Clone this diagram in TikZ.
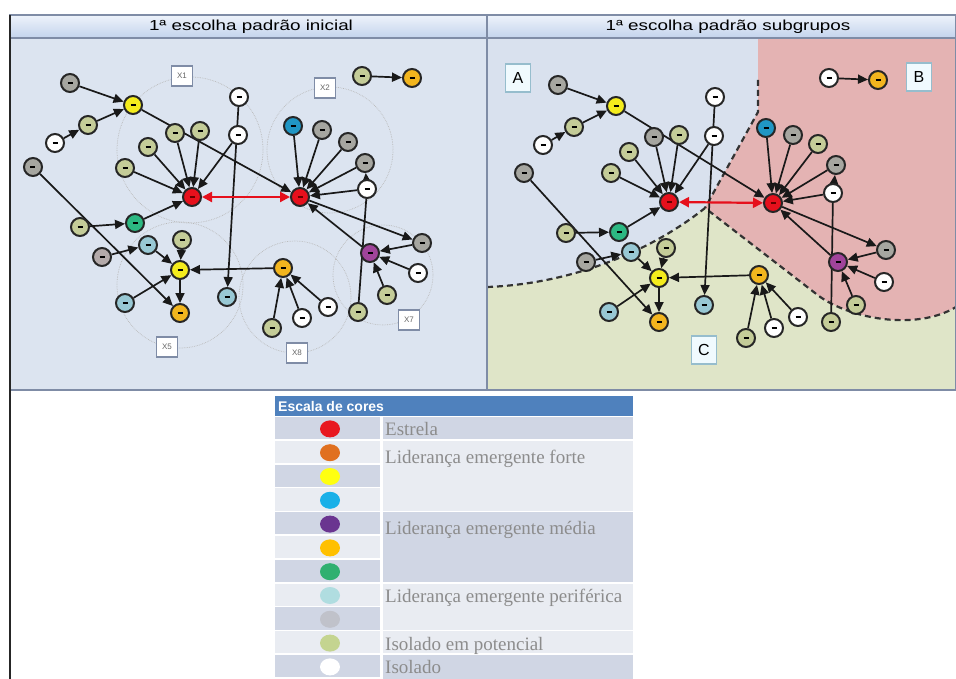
\documentclass[tikz,border=0pt]{standalone}
\usepackage{fontspec}
\setmainfont{Liberation Sans}
\newfontfamily\legserif{Liberation Serif}
\usetikzlibrary{arrows.meta}
\pgfdeclarelayer{bg}
\pgfdeclarelayer{edges}
\definecolor{cgray}{HTML}{A6A6A0}
\definecolor{colive}{HTML}{C4CC98}
\definecolor{cyellow}{HTML}{F4EC1C}
\definecolor{cgold}{HTML}{F2B51E}
\definecolor{cblue}{HTML}{2096C4}
\definecolor{cgreen}{HTML}{2CB882}
\definecolor{clblue}{HTML}{98C8D4}
\definecolor{cpurple}{HTML}{A0449A}
\definecolor{cmauve}{HTML}{B4AAAA}
\definecolor{cred}{HTML}{E6101C}
\definecolor{panelL}{HTML}{DCE4F0}
\definecolor{regA}{HTML}{D9E1EE}
\definecolor{regB}{HTML}{E4B3B3}
\definecolor{regC}{HTML}{DFE5C8}
\definecolor{tbtop}{HTML}{EEF3FB}
\definecolor{tbbot}{HTML}{C3D3EC}
\definecolor{framec}{HTML}{7F8CA6}
\definecolor{hdr}{HTML}{4F81BD}
\definecolor{rowdk}{HTML}{D0D6E4}
\definecolor{rowlt}{HTML}{E9ECF2}
\definecolor{legtxt}{HTML}{8C8C8C}
\definecolor{lred}{HTML}{E81820}
\definecolor{lorange}{HTML}{E07020}
\definecolor{lyellow}{HTML}{FFFF10}
\definecolor{lblue}{HTML}{19B0E8}
\definecolor{lpurple}{HTML}{6A3590}
\definecolor{lgold}{HTML}{FFC000}
\definecolor{lgreen}{HTML}{30B070}
\definecolor{llblue}{HTML}{B0DDE0}
\definecolor{lgray}{HTML}{C0C2CA}
\definecolor{lolive}{HTML}{C4D490}
\newcommand\dsh{\rule{5pt}{1.8pt}}
\newcommand\rdsh{\textcolor{black!60!red}{\rule{5pt}{1.8pt}}}
\tikzset{
 nd/.style={circle, draw=black!85, line width=2pt, minimum size=18pt, inner sep=0pt},
 ng/.style={nd, fill=cgray}, no/.style={nd, fill=colive}, nw/.style={nd, fill=white},
 ny/.style={nd, fill=cyellow}, nor/.style={nd, fill=cgold}, nb/.style={nd, fill=cblue},
 ngr/.style={nd, fill=cgreen}, nlb/.style={nd, fill=clblue}, np/.style={nd, fill=cpurple},
 nm/.style={nd, fill=cmauve}, nr/.style={nd, fill=cred},
 arr/.style={-{Triangle[length=10pt,width=9pt]}, line width=1.7pt, black!90},
 ln/.style={line width=1.7pt, black!90},
 redarr/.style={{Triangle[length=10pt,width=10pt]}-{Triangle[length=10pt,width=10pt]}, line width=2.2pt, cred},
 circ/.style={draw=gray!55, densely dotted, line width=0.7pt},
 xbox/.style={draw=framec, line width=1.2pt, fill=white, minimum width=21pt, minimum height=20pt, inner sep=0pt, font=\fontsize{8}{8}\selectfont, text=black!60},
 abox/.style={draw=cyan!40!gray!70, line width=1.4pt, fill=white!94!cyan, minimum width=25pt, minimum height=28pt, inner sep=0pt, font=\fontsize{16}{16}\selectfont},
 ttl/.style={font=\fontsize{14.5}{15}\selectfont, inner sep=0pt},
 bnd/.style={dash pattern=on 6pt off 4pt, line width=2.2pt, black!80},
 legt/.style={anchor=base west, inner sep=0pt, font=\legserif\fontsize{19}{19}\selectfont, text=legtxt}
}
\begin{document}
\begin{tikzpicture}[x=1pt,y=-1pt]
\pgfsetlayers{bg,edges,main}
\useasboundingbox (0,0) rectangle (956,679);

\begin{pgfonlayer}{bg}
\fill[white] (0,0) rectangle (956,679);
\fill[panelL] (10,38) rectangle (487,390);
\fill[regA] (487,38) rectangle (956,390);
\fill[regB] (758,38) -- (758,112) -- (705,208) -- (815,293) .. controls (845,318) and (915,332) .. (956,307) -- (956,38) -- cycle;
\fill[regC] (487,287) .. controls (570,284) and (650,252) .. (705,208) -- (815,293) .. controls (845,318) and (915,332) .. (956,307) -- (956,390) -- (487,390) -- cycle;
\draw[bnd] (758,80) -- (758,112) -- (705,208);
\draw[bnd] (487,287) .. controls (570,284) and (650,252) .. (705,208) -- (815,293) .. controls (845,318) and (915,332) .. (956,307);
\shade[top color=tbtop, bottom color=tbbot] (10,15) rectangle (487,38);
\shade[top color=tbtop, bottom color=tbbot] (487,15) rectangle (956,38);
\draw[framec, line width=1.2pt] (10,15) rectangle (487,390);
\draw[framec, line width=1.2pt] (487,15) rectangle (955.4,390);
\draw[framec, line width=1.2pt] (10,38) -- (955.4,38);
\draw[black!85, line width=2.2pt] (10,15) -- (10,679);
\draw[circ] (190,150) circle[radius=73pt];
\draw[circ] (330,150) circle[radius=63pt];
\draw[circ] (180,285) circle[radius=63pt];
\draw[circ] (295,297) circle[radius=56pt];
\draw[circ] (383,275) circle[radius=50pt];
\end{pgfonlayer}

\node[ttl] (tL) at (251,26.5) {\scalebox{1.3}[1]{1ª escolha padrão inicial}};
\node[ttl] (tR) at (728,26.5) {\scalebox{1.3}[1]{1ª escolha padrão subgrupos}};

% left panel nodes
\node[ng] (ag1) at (70,83) {\dsh};
\node[ny] (ay1) at (133,105) {\dsh};
\node[nw] (aw1) at (239,97) {\dsh};
\node[no] (ao1) at (88,125) {\dsh};
\node[nw] (aw2) at (55,143) {\dsh};
\node[ng] (ag2) at (33,167) {\dsh};
\node[no] (ao2) at (125,168) {\dsh};
\node[no] (ao3) at (148,147) {\dsh};
\node[no] (ao4) at (175,133) {\dsh};
\node[no] (ao5) at (200,131) {\dsh};
\node[nw] (aw3) at (238,135) {\dsh};
\node[nb] (ab1) at (293,126) {\dsh};
\node[ng] (ag3) at (322,130) {\dsh};
\node[ng] (ag4) at (348,142) {\dsh};
\node[ng] (ag5) at (365,163) {\dsh};
\node[nw] (aw4) at (367,189) {\dsh};
\node[nr] (ar1) at (192,197) {\rdsh};
\node[nr] (ar2) at (300,197) {\rdsh};
\node[ngr] (agr1) at (135,223) {\dsh};
\node[no] (ao6) at (80,227) {\dsh};
\node[nm] (am1) at (102,257) {\dsh};
\node[nlb] (alb1) at (148,245) {\dsh};
\node[no] (ao7) at (182,240) {\dsh};
\node[ny] (ay2) at (180,270) {\dsh};
\node[nlb] (alb2) at (125,303) {\dsh};
\node[nor] (aor1) at (180,313) {\dsh};
\node[nlb] (alb3) at (227,297) {\dsh};
\node[nor] (ago1) at (283,268) {\dsh};
\node[nw] (aw5) at (328,307) {\dsh};
\node[nw] (aw6) at (302,318) {\dsh};
\node[no] (ao8) at (272,328) {\dsh};
\node[np] (ap1) at (370,253) {\dsh};
\node[ng] (ag6) at (422,243) {\dsh};
\node[nw] (aw7) at (418,273) {\dsh};
\node[no] (ao9) at (387,295) {\dsh};
\node[no] (ao10) at (358,312) {\dsh};
\node[no] (ag7) at (362,76) {\dsh};
\node[nor] (aor2) at (412,78) {\dsh};

\node[xbox] (x1) at (182,76) {X1};
\node[xbox] (x2) at (325,88) {X2};
\node[xbox] (x5) at (167,347) {X5};
\node[xbox] (x8) at (297,353) {X8};
\node[xbox] (x7) at (409,320) {X7};

% right panel nodes
\node[ng] (bg1) at (558,85) {\dsh};
\node[ny] (by1) at (616,106) {\dsh};
\node[nw] (bw1) at (715,97) {\dsh};
\node[no] (bo1) at (574,127) {\dsh};
\node[nw] (bw2) at (543,145) {\dsh};
\node[ng] (bg2) at (524,173) {\dsh};
\node[no] (bo2) at (611,173) {\dsh};
\node[no] (bo3) at (629,152) {\dsh};
\node[ng] (bo4) at (654,137) {\dsh};
\node[no] (bo5) at (679,135) {\dsh};
\node[nw] (bw3) at (714,136) {\dsh};
\node[nb] (bb1) at (766,128) {\dsh};
\node[ng] (bg3) at (793,135) {\dsh};
\node[no] (bg4) at (818,144) {\dsh};
\node[ng] (bg5) at (836,165) {\dsh};
\node[nw] (bw4) at (833,193) {\dsh};
\node[nr] (br1) at (669,202) {\rdsh};
\node[nr] (br2) at (773,203) {\rdsh};
\node[ngr] (bgr1) at (619,232) {\dsh};
\node[no] (bo6) at (566,233) {\dsh};
\node[ng] (bm1) at (586,262) {\dsh};
\node[nlb] (blb1) at (631,252) {\dsh};
\node[no] (bo7) at (666,248) {\dsh};
\node[ny] (by2) at (659,278) {\dsh};
\node[nlb] (blb2) at (609,312) {\dsh};
\node[nor] (bor1) at (659,322) {\dsh};
\node[nlb] (blb3) at (704,305) {\dsh};
\node[nor] (bgo1) at (759,275) {\dsh};
\node[nw] (bw5) at (798,317) {\dsh};
\node[nw] (bw6) at (774,328) {\dsh};
\node[no] (bo8) at (746,338) {\dsh};
\node[np] (bp1) at (838,262) {\dsh};
\node[ng] (bg6) at (886,250) {\dsh};
\node[nw] (bw7) at (884,282) {\dsh};
\node[no] (bo9) at (856,305) {\dsh};
\node[no] (bo10) at (831,322) {\dsh};
\node[nw] (bg7) at (829,78) {\dsh};
\node[nor] (bor2) at (878,80) {\dsh};

\node[abox] (bxA) at (518,78) {A};
\node[abox] (bxB) at (919,77) {B};
\node[abox] (bxC) at (704,350) {C};

\begin{pgfonlayer}{edges}
\foreach \p in {a,b} {
 \draw[arr] (\p g1) -- (\p y1);
 \draw[arr] (\p w2) -- (\p o1);
 \draw[arr] (\p o1) -- (\p y1);
 \draw[arr] (\p y1) -- (\p r2);
 \draw[arr] (\p g2) -- (\p or1);
 \draw[arr] (\p o2) -- (\p r1);
 \draw[arr] (\p o3) -- (\p r1);
 \draw[arr] (\p o4) -- (\p r1);
 \draw[arr] (\p o5) -- (\p r1);
 \draw[arr] (\p w3) -- (\p r1);
 \draw[arr] (\p w1) -- (\p lb3);
 \draw[arr] (\p b1) -- (\p r2);
 \draw[arr] (\p g3) -- (\p r2);
 \draw[arr] (\p g4) -- (\p r2);
 \draw[arr] (\p g5) -- (\p r2);
 \draw[arr] (\p w4) -- (\p r2);
 \draw[arr] (\p w4) -- (\p g5);
 \draw[arr] (\p o6) -- (\p gr1);
 \draw[arr] (\p gr1) -- (\p r1);
 \draw[arr] (\p r2) -- (\p g6);
 \draw[arr] (\p p1) -- (\p r2);
 \draw[ln] (\p o10) -- (\p w4);
 \draw[arr] (\p g6) -- (\p p1);
 \draw[arr] (\p w7) -- (\p p1);
 \draw[arr] (\p o9) -- (\p p1);
 \draw[arr] (\p go1) -- (\p y2);
 \draw[arr] (\p w5) -- (\p go1);
 \draw[arr] (\p w6) -- (\p go1);
 \draw[arr] (\p o8) -- (\p go1);
 \draw[arr] (\p lb1) -- (\p y2);
 \draw[arr] (\p o7) -- (\p y2);
 \draw[arr] (\p lb2) -- (\p y2);
 \draw[arr] (\p y2) -- (\p or1);
 \draw[arr] (\p m1) -- (\p lb1);
 \draw[arr] (\p g7) -- (\p or2);
 \draw[redarr] (\p r1) -- (\p r2);
}
\end{pgfonlayer}

% legend
\fill[hdr] (275,396) rectangle (633,416);
\node[anchor=west, inner sep=0pt, text=white, font=\bfseries\fontsize{14}{14}\selectfont] (lh) at (278,406) {Escala de cores};
\foreach \i/\f in {1/rowdk,2/rowlt,3/rowdk,4/rowlt,5/rowdk,6/rowlt,7/rowdk,8/rowlt,9/rowdk,10/rowlt,11/rowdk}
 \fill[\f] (275,{417+(\i-1)*23.8}) rectangle (380,{417+\i*23.8-1.6});
\fill[rowdk] (382.5,417) rectangle (633,{417+23.8-1.6});
\fill[rowlt] (382.5,{417+23.8}) rectangle (633,{417+4*23.8-1.6});
\fill[rowdk] (382.5,{417+4*23.8}) rectangle (633,{417+7*23.8-1.6});
\fill[rowlt] (382.5,{417+7*23.8}) rectangle (633,{417+9*23.8-1.6});
\fill[rowlt] (382.5,{417+9*23.8}) rectangle (633,{417+10*23.8-1.6});
\fill[rowdk] (382.5,{417+10*23.8}) rectangle (633,679);
\foreach \i/\c in {1/lred,2/lorange,3/lyellow,4/lblue,5/lpurple,6/lgold,7/lgreen,8/llblue,9/lgray,10/lolive,11/white}
 \fill[\c] (330,{417+(\i-0.5)*23.8}) ellipse[x radius=10pt, y radius=8.5pt];
\node[legt] (l1) at (385,435) {Estrela};
\node[legt] (l2) at (385,463) {Liderança emergente forte};
\node[legt] (l3) at (385,534) {Liderança emergente média};
\node[legt] (l4) at (385,602) {Liderança emergente periférica};
\node[legt] (l5) at (385,650) {Isolado em potencial};
\node[legt] (l6) at (385,673) {Isolado};
\end{tikzpicture}
\end{document}
